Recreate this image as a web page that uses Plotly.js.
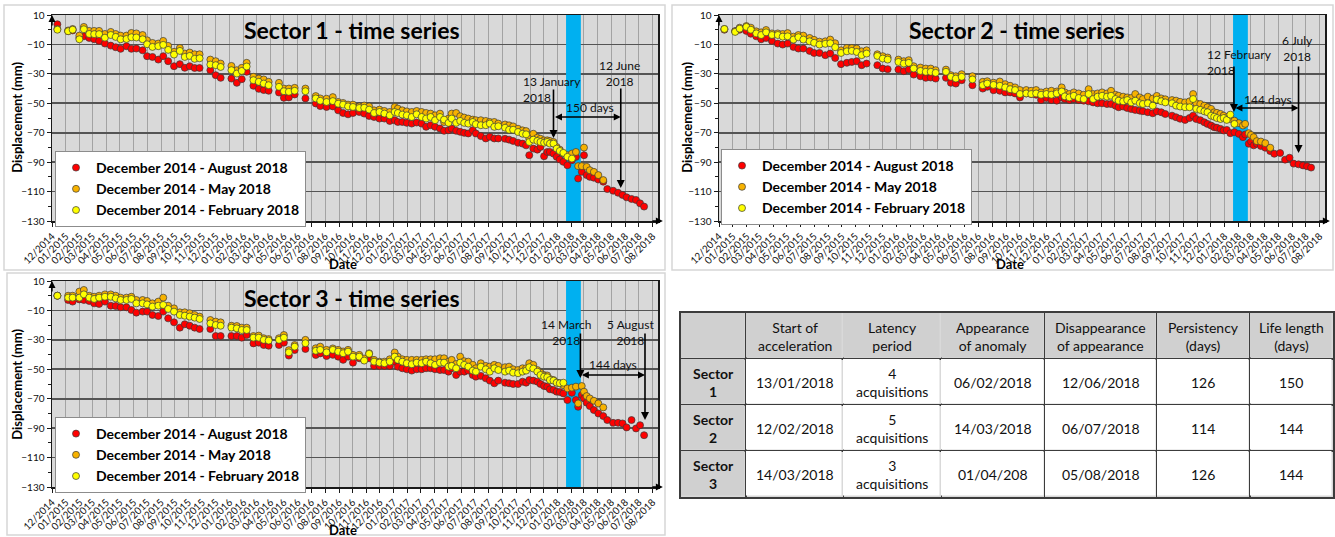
<!DOCTYPE html>
<html><head><meta charset="utf-8">
<script src="https://cdn.plot.ly/plotly-3.0.1.min.js"></script>
<style>html,body{margin:0;padding:0;background:#fff;} #chart{width:1335px;height:537px;}</style>
</head><body><div id="chart"></div>
<script>
// ---------------- DATA ----------------
const dates = [
"2015-01-03","2015-01-27","2015-02-06","2015-02-21","2015-03-03","2015-03-15","2015-03-26","2015-04-06","2015-04-19","2015-05-02",
"2015-05-13","2015-05-24","2015-06-06","2015-06-17","2015-06-28","2015-07-12","2015-07-22","2015-08-03","2015-08-16","2015-08-27",
"2015-09-07","2015-09-20","2015-10-03","2015-10-14","2015-10-25","2015-11-05","2015-11-16","2015-12-10","2015-12-22","2016-01-02",
"2016-01-26","2016-02-07","2016-02-18","2016-02-29","2016-03-15","2016-03-27","2016-04-07","2016-04-18","2016-05-11","2016-05-22",
"2016-06-02","2016-06-15","2016-07-09","2016-08-01","2016-08-11","2016-08-25","2016-09-08","2016-09-20","2016-10-01","2016-10-12",
"2016-10-23","2016-11-06","2016-11-17","2016-11-28","2016-12-09","2016-12-21","2017-01-01","2017-01-13","2017-01-24","2017-01-31",
"2017-02-10","2017-02-20","2017-03-03","2017-03-14","2017-03-25","2017-04-04","2017-04-14","2017-04-24","2017-05-05","2017-05-14",
"2017-05-24","2017-05-31","2017-06-10","2017-06-19","2017-06-28","2017-07-07","2017-07-17","2017-07-24","2017-08-04","2017-08-15",
"2017-08-24","2017-09-03","2017-09-12","2017-09-27","2017-10-06","2017-10-15","2017-10-26","2017-11-05","2017-11-13","2017-11-20",
"2017-11-29","2017-12-08","2017-12-15","2017-12-23","2017-12-30","2018-01-05","2018-01-13","2018-01-20","2018-01-27","2018-02-04",
"2018-02-13","2018-02-23","2018-03-04","2018-03-09","2018-03-17","2018-03-22","2018-03-28","2018-04-04","2018-04-13","2018-04-23",
"2018-05-04","2018-05-13","2018-05-26","2018-06-06","2018-06-16","2018-06-25","2018-07-06","2018-07-16","2018-07-25","2018-08-03"
];

const seriesNames = ['December 2014 - August 2018','December 2014 - May 2018','December 2014 - February 2018'];

// Sector 1
const s1Aug = [3.7,-1,-0.5,-5.5,-4.5,-5.6,-6.5,-7.6,-9.4,-10.8,
-11.9,-13,-11.2,-13,-12.8,-14,-18,-18.5,-20.3,-18,
-21.4,-24.8,-23.4,-25.9,-24.8,-26,-26,-27.5,-30.9,-32.7,
-33.2,-36.1,-33.6,-28.6,-38.1,-40.2,-41,-41.5,-42.7,-46.3,
-46,-44,-46.7,-50.1,-51.9,-52.5,-52.1,-54.8,-56.6,-57.5,
-56.6,-55.9,-57,-58.6,-59.3,-60.4,-60.4,-62,-61.5,-62.7,
-62.7,-63.3,-63.8,-63.1,-63.8,-66,-64.9,-66,-67.2,-68.7,
-68.3,-67.2,-68.7,-69.4,-70.1,-70.5,-68.3,-70.5,-72.3,-73.9,
-72.8,-73.9,-73.9,-74.1,-74.7,-75.6,-76.8,-77.4,-78.6,-85.3,
-80.8,-81.5,-79.7,-86,-83.1,-83.1,-84.2,-86.4,-88.2,-89.8,
-92.1,-88.7,-86.4,-101.1,-96.6,-85.3,-98.8,-100,-100.6,-101.8,
-103.3,-108.3,-109.4,-110.8,-112.3,-113.9,-115,-115.7,-118,-120.2];
const s1May = [0.5,-0.5,0.5,-4,1.9,-0.8,-0.8,-0.8,-2.9,-1.5,
-2.9,-4,-4,-2.2,-2.5,-3.6,-7.2,-9,-9.4,-7.6,
-11,-15,-12.4,-16.2,-15.5,-16.7,-16.7,-20.3,-21.4,-23,
-24.6,-27.5,-25.9,-22.5,-32,-33.2,-33.8,-35.4,-36.1,-40,
-40,-39.5,-40,-45.1,-46.7,-46.9,-45.8,-49.1,-49.8,-50.9,
-50.9,-52.1,-51.5,-52.1,-54.8,-54.3,-55.2,-55.9,-52.5,-53.6,
-54.8,-55.5,-55.9,-55.2,-55.9,-56.6,-57,-58.2,-57,-62.7,
-60.4,-57,-56.6,-58.8,-59.7,-60.4,-61.1,-61.5,-61.5,-62,
-62.7,-62.7,-63.8,-64.4,-65,-65.7,-67.3,-68.4,-68.9,-74.1,
-70.7,-73.4,-74.1,-75.2,-75.2,-75.6,-76.3,-79.7,-81.5,-84.2,
-85.3,-84.2,-83.1,-92.7,-92.7,-80.1,-93.2,-95.5,-96.6,-98.8,-102.2];
const s1Feb = [0,-1,0,-6.5,0.3,-2.9,-3,-3,-5.4,-3.6,
-4.9,-6.5,-6.3,-5.1,-5.3,-6.5,-9.9,-11.7,-11.2,-10.3,
-13.7,-16.9,-14.4,-18.5,-17.8,-19.8,-19.4,-23.7,-24.1,-25.3,
-27.5,-29.8,-28,-25,-34.3,-35.4,-36.6,-37.7,-38.8,-41.8,
-42.2,-41.5,-41.8,-46.7,-48.3,-49.1,-48.5,-50.3,-50.9,-52.1,
-52.5,-53.2,-53,-54.3,-56.6,-55.9,-57,-58.2,-55.9,-56.6,
-57.7,-58.2,-59.3,-57.5,-59.3,-60.4,-59.3,-61.5,-59.3,-61.1,
-63.3,-60.4,-63.3,-62,-63.3,-63.8,-62.7,-64.2,-64.9,-64.9,
-63.8,-66,-65.6,-66.6,-68,-68,-69.5,-70.7,-71.1,-76.3,
-74.7,-75.6,-76.3,-76.8,-76.3,-77.4,-77.4,-80.8,-82.4,-83.7,
-86.4,-87.6];

// Sector 2
const s2Aug = [0,-1,0,-0.8,-2.7,-4.5,-6.5,-5.6,-7.6,-9.4,
-10.1,-9.4,-11.7,-12.8,-12.8,-14.4,-15.8,-15.8,-17.3,-16.2,
-19.2,-23.4,-22.5,-21.9,-21.4,-24.1,-23,-24.1,-26.4,-26.8,
-27.1,-28.2,-27.1,-30.5,-31.6,-32.7,-32.5,-33.2,-32.7,-36.1,
-36.6,-34.3,-37.7,-40,-38.8,-41.1,-41.5,-42.6,-42.6,-43.3,
-46,-43.3,-43.7,-44.2,-47.8,-46.4,-47.8,-48.2,-46,-47.1,
-47.8,-47.1,-47.8,-48.2,-48.7,-49.4,-50,-50,-50.5,-50.5,
-51.6,-52.7,-52.2,-53.2,-53.9,-54.5,-55,-55.4,-56.1,-56.8,
-55.5,-56.1,-57.3,-58.4,-59.5,-60.5,-61.3,-60,-58.4,-60.7,
-61.5,-62.9,-64,-65.1,-66.3,-66.6,-67.4,-68.5,-68.1,-70.3,
-69.6,-70.8,-73,-71.2,-77.5,-76,-78.6,-77.5,-79,-80.2,
-82.5,-84.3,-83.8,-88.3,-87,-91,-91.5,-92.2,-92.8,-93.7];
const s2May = [0.5,-1,1.4,2.5,1.4,-1.1,-1.8,-0.2,-2.5,-2.5,
-2.9,-2.3,-4.7,-3.6,-4,-5.6,-6.9,-8.1,-7.9,-6.7,
-9.2,-14,-12.4,-12.4,-12.8,-14.7,-14,-16.7,-18,-18.9,
-20.3,-21.4,-20.7,-24.8,-25.7,-26.4,-26.4,-27.5,-27.1,-30.9,
-31.6,-30.2,-31.6,-35.4,-35,-36,-35.2,-37,-38.1,-39.2,
-41,-41,-41.5,-41,-42.6,-42,-41.5,-42,-39.2,-42.6,
-43.7,-42.6,-43.3,-44.2,-40.4,-43.7,-43.3,-42.6,-43.3,-41.5,
-44.2,-44.9,-45.5,-46,-46.4,-43.7,-46,-47.1,-45.5,-46.8,
-45,-46.7,-47.3,-47.8,-48.2,-49,-49.4,-48.7,-43.7,-50,
-50.5,-51.6,-52.7,-53.8,-56.1,-56.5,-57.2,-58.4,-59.5,-60.7,
-61.8,-63.5,-65.1,-64,-70.3,-71.5,-73,-75.7,-76,-77.1,-80.2];
const s2Feb = [0.5,-1.5,0.7,1.9,0,-2.5,-3.6,-1.8,-3.6,-3.6,
-4.7,-4.5,-6.7,-5.1,-6.7,-7.9,-8.9,-10.1,-9.6,-9.2,
-11.9,-15.8,-14.7,-14.4,-15.1,-17.3,-16.2,-17.8,-19.6,-20.3,
-21.9,-23,-22.5,-26.4,-28,-28.6,-28.6,-29.3,-28.6,-32,
-33.2,-32,-33.8,-37.7,-36.6,-37.5,-38.1,-39.2,-40.4,-41,
-43.7,-43.3,-43.7,-43.3,-44.2,-43.7,-44.2,-43.3,-42,-45.3,
-46,-44.9,-46.4,-47.1,-43.7,-47.1,-45.5,-44.9,-45.5,-44.9,
-47.1,-48.2,-48.7,-47.8,-49.4,-48.2,-50,-50.5,-50,-51.6,
-47.5,-48.6,-49.4,-50,-51.6,-52.2,-52.7,-52.7,-47.1,-53.8,
-54.5,-55.5,-56.1,-58.4,-59.1,-60,-60.7,-60,-61.3,-57.7,
-64];

// Sector 3
const s3Aug = [0,-2.9,-4,-2.5,-2.9,-3.6,-5.2,-5.6,-4,-6.8,
-7,-7.9,-7.9,-9.7,-11.5,-10.8,-10.8,-13.1,-13.8,-10.8,
-15.4,-18.1,-21.7,-19.4,-20.4,-21.7,-22.6,-22.6,-27.4,-27.4,
-27.4,-27.4,-28.5,-26.7,-32.4,-31.9,-33.5,-34,-33.5,-31.9,
-40.7,-36.9,-36.2,-40.3,-39.2,-41,-40.2,-41.4,-43.6,-41.4,
-45.5,-42.5,-43.6,-42.5,-47.7,-47.7,-47.7,-47.7,-44.8,-48.2,
-49.3,-50,-50.9,-50,-50,-49.3,-49.3,-50,-50.5,-50.5,
-51.6,-49.3,-53.9,-51.6,-51.6,-50.9,-53.9,-55,-54.5,-56.1,
-57.7,-59.5,-57.7,-59.1,-59.5,-60,-60,-58.4,-59.1,-57.3,
-57.7,-58.4,-60,-61.4,-61.8,-63.6,-64,-65.2,-65.5,-66.4,
-70.9,-66,-70.9,-75.5,-67.5,-69.8,-72.7,-75,-77.7,-80,
-81.8,-84.5,-86.4,-86.4,-86.8,-89.5,-84.5,-90.2,-88,-94.8];
const s3May = [0,0,0,2.8,3.9,0,-0.7,0,0.9,0.9,
0,-1.3,-1.3,-0.7,-2.9,-2.9,-3.6,-5.2,-4,-1.3,
-6.8,-8.6,-11.3,-11.3,-11.9,-13.1,-14.2,-16.5,-17.6,-18.1,
-20.4,-20.6,-21.7,-21.7,-27.4,-27.1,-28.9,-29.5,-28.9,-26.7,
-37,-33.5,-30,-35.7,-34.6,-36.8,-35.8,-36.8,-37.9,-36.8,
-40.2,-40.2,-42.7,-39.1,-43.6,-44.8,-44.8,-43.2,-38.6,-41.4,
-43.2,-43.6,-43.6,-43.6,-43.6,-43.2,-43.2,-43.2,-42.5,-42.5,
-44.8,-43.6,-46.4,-41.4,-44.5,-44.8,-47,-49.3,-45.9,-47.7,
-48.2,-47,-47.7,-48.6,-48.2,-50,-50.5,-49.3,-49.3,-45.9,
-47,-50.5,-52.3,-53.9,-54.2,-56.6,-57.3,-58.9,-59.5,-60.8,
-63,-62.5,-61.8,-73.2,-61.4,-65.2,-68.2,-69.8,-71.4,-73.2,-75.9];
const s3Feb = [0,-1.3,-1.3,-1.3,0.9,-1.3,-2.2,-1.3,-0.7,-0.7,
-1.8,-2.9,-2.9,-2.2,-5.2,-5.2,-5.9,-7.4,-6.8,-6.3,
-9,-10.8,-13.1,-13.6,-14.2,-14.9,-15.8,-18.8,-19.9,-20.4,
-21.7,-22.2,-23.3,-23.3,-28.5,-28.5,-30,-30.5,-30,-28.5,
-38.5,-34.6,-32.3,-37.4,-36.8,-38.5,-36.8,-38,-39.1,-38,
-41.4,-41.4,-44.1,-39.5,-44.8,-45.5,-45.9,-44.8,-41.4,-43.6,
-44.8,-45.9,-46.6,-45.5,-45.9,-44.8,-45.9,-47,-45.5,-45.5,
-48.2,-47.7,-49.3,-45.5,-47,-48.2,-50.9,-51.6,-48.2,-50,
-51.6,-49.3,-50.5,-51.6,-50.9,-52.3,-52.7,-51.6,-50.9,-48.6,
-49.5,-51.6,-53.9,-55,-55.4,-57.3,-57.7,-59.1,-59.5,-59.1];

const sectorTitles = ['Sector 1 - time series','Sector 2 - time series','Sector 3 - time series'];
const arrowStartDates = ['2018-01-13','2018-02-12','2018-03-14'];
const arrowEndDates = ['2018-06-12','2018-07-06','2018-08-05'];
const startLabels = ['13 January<br>2018','12 February<br>2018','14 March<br>2018'];
const endLabels = ['12 June<br>2018','6 July<br>2018','5 August<br>2018'];
const spanLabels = ['150 days','144 days','144 days'];
const bandStart = '2018-02-10';
const bandEnd = '2018-03-15';
const yRange = [-130, 10];

// Table
const tableHeader = ['', 'Start of<br>acceleration', 'Latency<br>period', 'Appearance<br>of anomaly', 'Disappearance<br>of appearance', 'Persistency<br>(days)', 'Life length<br>(days)'];
const tableSectors = ['Sector<br>1','Sector<br>2','Sector<br>3'];
const startAcceleration = ['13/01/2018','12/02/2018','14/03/2018'];
const latencyPeriod = ['4<br>acquisitions','5<br>acquisitions','3<br>acquisitions'];
const anomalyAppearance = ['06/02/2018','14/03/2018','01/04/208'];
const anomalyDisappearance = ['12/06/2018','06/07/2018','05/08/2018'];
const persistencyDays = [126,114,126];
const lifeLengthDays = [150,144,144];
const columnWidths = [65, 97, 98, 103, 112, 93, 83];

// ---------------- BUILD ----------------
const W = 1335, H = 537;
const px = v => v / W;
const py = v => 1 - v / H;
const FONT = 'Lato, "Open Sans", sans-serif';
const colors = ['#ff0000', '#f7b200', '#ffff00'];

const sectorSeries = [[s1Aug, s1May, s1Feb], [s2Aug, s2May, s2Feb], [s3Aug, s3May, s3Feb]];
const panels = [
  {x0: 52, x1: 658, y0: 15, y1: 221},
  {x0: 719, x1: 1325, y0: 15, y1: 221},
  {x0: 52, x1: 658, y0: 281, y1: 487}
];
const legendPos = [[55, 151], [721, 149], [55, 417]];
const annPos = [
  {title: [0.495, 0.927], start: [0.774, 0.723, 'left'], end: [0.937, 0.801], span: [0.888, 0.553], a1: [-39.6, -73.6], a2: [-39, -107.6], h: -59.3, date: 0.48, ytitle: [-0.058, 0.505]},
  {title: [0.492, 0.927], start: [0.802, 0.854, 'left'], end: [0.954, 0.922], span: [0.906, 0.592], a1: [-24, -55.9], a2: [-24, -83.8], h: -53.2, date: 0.48, ytitle: [-0.053, 0.505]},
  {title: [0.495, 0.917], start: [0.848, 0.835, 'center'], end: [0.954, 0.835], span: [0.926, 0.597], a1: [-24.7, -55.9], a2: [-24.7, -84.5], h: -53.9, date: 0.48, ytitle: [-0.058, 0.5]}
];

const traces = [];
const layout = {
  width: W, height: H,
  margin: {l: 0, r: 0, t: 0, b: 0},
  paper_bgcolor: '#ffffff',
  plot_bgcolor: '#d9d9d9',
  font: {family: FONT, color: '#000'},
  showlegend: true,
  annotations: [],
  shapes: []
};

// panel frames
[[4, 665, 5, 270], [672, 1333, 5, 270], [7, 665, 273, 535]].forEach(f => {
  layout.shapes.push({type: 'rect', xref: 'paper', yref: 'paper', x0: px(f[0]), x1: px(f[1]), y0: py(f[3]), y1: py(f[2]),
    line: {color: '#d6d6d6', width: 1.5}, layer: 'below'});
});

const bandT0 = Date.parse(bandStart + 'T00:00:00Z');
const bandT1 = Date.parse(bandEnd + 'T00:00:00Z');

panels.forEach((p, i) => {
  const sfx = i === 0 ? '' : String(i + 1);
  const xa = 'x' + sfx, ya = 'y' + sfx;
  const legName = 'legend' + sfx;

  layout['xaxis' + sfx] = {
    domain: [px(p.x0), px(p.x1)], anchor: ya, type: 'date',
    range: ['2014-12-22', '2018-09-03'], tick0: '2014-12-22', dtick: 'M1', tickformat: '%m/%Y',
    tickangle: -45, tickfont: {family: FONT, size: 10, color: '#111'},
    showgrid: true, gridcolor: '#a3a3a3', gridwidth: 1,
    showline: true, linecolor: '#1a1a1a', linewidth: 1.5, mirror: true,
    ticks: 'outside', ticklen: 4, tickcolor: '#1a1a1a',
    zeroline: false, automargin: false, fixedrange: true
  };
  layout['yaxis' + sfx] = {
    domain: [py(p.y1), py(p.y0)], anchor: xa,
    range: yRange, tick0: 10, dtick: 20,
    tickfont: {family: FONT, size: 10, color: '#111'},
    showgrid: true, gridcolor: '#555555', gridwidth: 1.6,
    showline: true, linecolor: '#1a1a1a', linewidth: 1.5, mirror: true,
    ticks: 'outside', ticklen: 4, tickcolor: '#1a1a1a',
    minor: {dtick: 10, tick0: 0, ticks: 'outside', ticklen: 3, tickcolor: '#1a1a1a', showgrid: false},
    zeroline: false, automargin: false, fixedrange: true
  };

  // blue band (period), drawn as a bar so it sits above the grid and below the points
  traces.push({
    type: 'bar', x: [(bandT0 + bandT1) / 2], y: [yRange[1] - yRange[0]], base: [yRange[0]],
    width: [bandT1 - bandT0], xaxis: xa, yaxis: ya, showlegend: false, hoverinfo: 'skip',
    marker: {color: '#00b0f0', line: {width: 0}}
  });

  sectorSeries[i].forEach((arr, j) => {
    traces.push({
      type: 'scatter', mode: 'markers', x: dates, y: arr, xaxis: xa, yaxis: ya,
      name: seriesNames[j], legend: legName, hoverinfo: 'skip',
      marker: {size: 7, color: colors[j], line: {color: '#3a3a3a', width: 0.7}}
    });
  });

  layout[legName] = {
    x: px(legendPos[i][0]), y: py(legendPos[i][1]), xanchor: 'left', yanchor: 'top',
    bgcolor: '#ffffff', bordercolor: '#8c8c8c', borderwidth: 1,
    font: {family: FONT, size: 14, weight: 'bold', color: '#000'},
    itemwidth: 30, tracegroupgap: 0
  };

  const a = annPos[i];
  const dx = xa + ' domain', dy = ya + ' domain';
  layout.annotations.push(
    {xref: dx, yref: dy, x: a.title[0], y: a.title[1], text: sectorTitles[i], showarrow: false,
      font: {family: FONT, size: 23, weight: 'bold', color: '#000'}, xanchor: 'center', yanchor: 'middle'},
    {xref: dx, yref: dy, x: a.date, y: -0.21, text: 'Date', showarrow: false,
      font: {family: FONT, size: 13, weight: 'bold', color: '#000'}, xanchor: 'center', yanchor: 'middle'},
    {xref: dx, yref: dy, x: a.ytitle[0], y: a.ytitle[1], text: 'Displacement (mm)', textangle: -90, showarrow: false,
      font: {family: FONT, size: 13, weight: 'bold', color: '#000'}, xanchor: 'center', yanchor: 'middle'},
    {xref: dx, yref: dy, x: a.start[0], y: a.start[1], text: startLabels[i], showarrow: false, align: a.start[2],
      xanchor: a.start[2], yanchor: 'top', font: {family: FONT, size: 12, color: '#111'}},
    {xref: dx, yref: dy, x: a.end[0], y: a.end[1], text: endLabels[i], showarrow: false, align: 'center',
      xanchor: 'center', yanchor: 'top', font: {family: FONT, size: 12, color: '#111'}},
    {xref: dx, yref: dy, x: a.span[0], y: a.span[1], text: spanLabels[i], showarrow: false,
      xanchor: 'center', yanchor: 'middle', font: {family: FONT, size: 12, color: '#111'}},
    {xref: xa, yref: ya, x: arrowStartDates[i], y: a.a1[1], ax: arrowStartDates[i], ay: a.a1[0], axref: xa, ayref: ya,
      text: '', showarrow: true, arrowhead: 2, arrowsize: 1, arrowwidth: 1.6, arrowcolor: '#000'},
    {xref: xa, yref: ya, x: arrowEndDates[i], y: a.a2[1], ax: arrowEndDates[i], ay: a.a2[0], axref: xa, ayref: ya,
      text: '', showarrow: true, arrowhead: 2, arrowsize: 1, arrowwidth: 1.6, arrowcolor: '#000'},
    {xref: xa, yref: ya, x: arrowEndDates[i], y: a.h, ax: arrowStartDates[i], ay: a.h, axref: xa, ayref: ya,
      text: '', showarrow: true, arrowhead: 2, arrowside: 'end+start', arrowsize: 1, arrowwidth: 1.4, arrowcolor: '#000'},
    {xref: dx, yref: dy, x: 0, y: 1, ax: 0, ay: 12, text: '', showarrow: true, arrowhead: 2, arrowsize: 1, arrowwidth: 1.4, arrowcolor: '#000'},
    {xref: dx, yref: dy, x: 1.008, y: 0, ax: -12, ay: 0, text: '', showarrow: true, arrowhead: 2, arrowsize: 1, arrowwidth: 1.4, arrowcolor: '#000'}
  );
});

// ---------------- TABLE (cells as a heatmap grid on its own axes) ----------------
const colEdges = [0];
columnWidths.forEach(w => colEdges.push(colEdges[colEdges.length - 1] + w));
const tableCols = [
  [tableHeader[0]].concat(tableSectors.map(s => '<b>' + s + '</b>')),
  [tableHeader[1]].concat(startAcceleration),
  [tableHeader[2]].concat(latencyPeriod),
  [tableHeader[3]].concat(anomalyAppearance),
  [tableHeader[4]].concat(anomalyDisappearance),
  [tableHeader[5]].concat(persistencyDays.map(String)),
  [tableHeader[6]].concat(lifeLengthDays.map(String))
];
const nRows = tableCols[0].length;
const rowEdges = [];
for (let r = 0; r <= nRows; r++) rowEdges.push(r);
const cellShade = [];
for (let r = 0; r < nRows; r++) {
  const row = [];
  for (let c = 0; c < tableCols.length; c++) row.push(r === 0 || c === 0 ? 1 : 0);
  cellShade.push(row);
}
traces.push({
  type: 'heatmap', x: colEdges, y: rowEdges, z: cellShade, xaxis: 'x4', yaxis: 'y4',
  colorscale: [[0, '#ffffff'], [1, '#d0d0d0']], zmin: 0, zmax: 1, showscale: false,
  xgap: 1.5, ygap: 1.5, hoverinfo: 'skip'
});
const tblLine = '#3c3c3c';
layout.xaxis4 = {
  domain: [px(681), px(1333)], anchor: 'y4', range: [0, colEdges[colEdges.length - 1]],
  tickvals: colEdges, showticklabels: false, ticks: '', showgrid: true, gridcolor: tblLine, gridwidth: 1.5,
  zeroline: false, showline: true, mirror: true, linecolor: tblLine, linewidth: 1.6, fixedrange: true
};
layout.yaxis4 = {
  domain: [py(497), py(313)], anchor: 'x4', range: [nRows, 0],
  tickvals: rowEdges, showticklabels: false, ticks: '', showgrid: true, gridcolor: tblLine, gridwidth: 1.5,
  zeroline: false, showline: true, mirror: true, linecolor: tblLine, linewidth: 1.6, fixedrange: true
};
tableCols.forEach((col, c) => {
  col.forEach((txt, r) => {
    if (!txt) return;
    layout.annotations.push({
      xref: 'x4', yref: 'y4', x: (colEdges[c] + colEdges[c + 1]) / 2, y: r + 0.5, text: txt,
      showarrow: false, align: 'center', xanchor: 'center', yanchor: 'middle',
      font: {family: FONT, size: 14, color: '#111'}
    });
  });
});

Plotly.newPlot('chart', traces, layout, {staticPlot: true, displayModeBar: false});
</script></body></html>
